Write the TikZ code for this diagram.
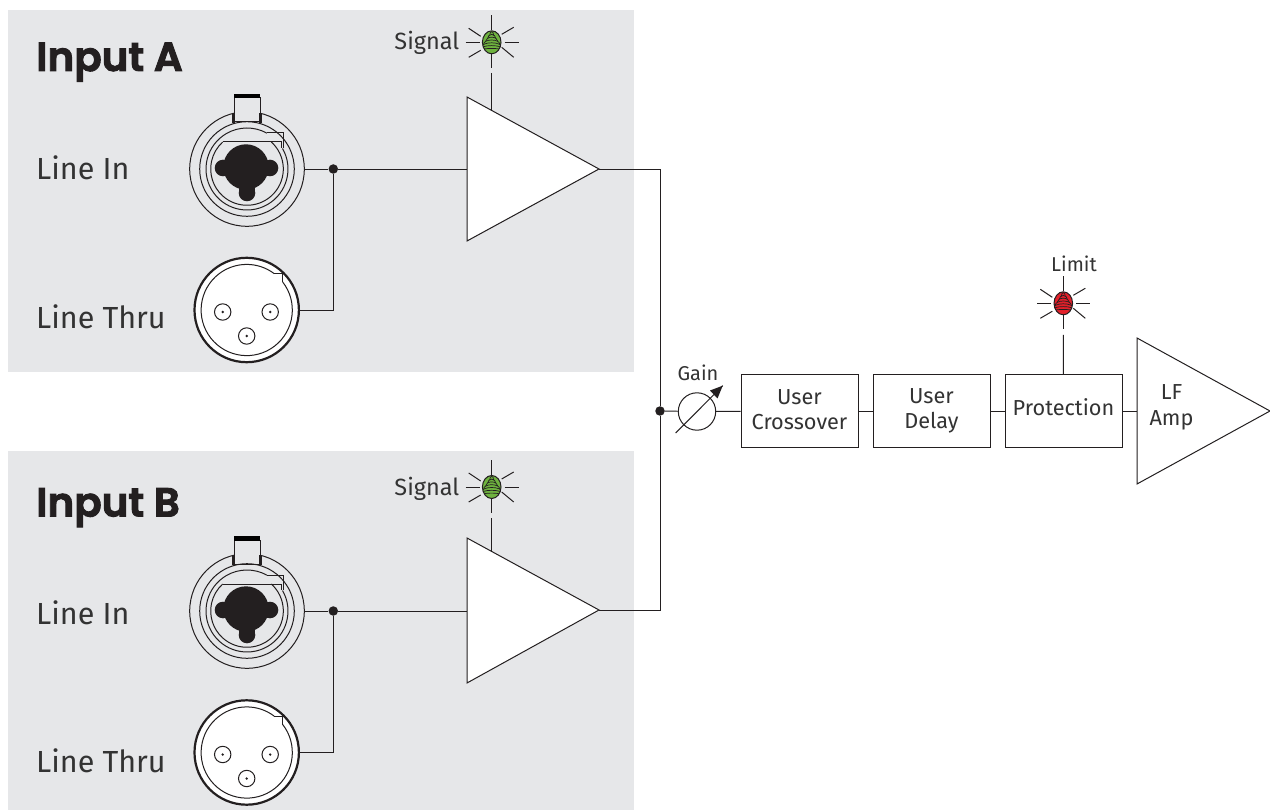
\documentclass[tikz,border=0pt]{standalone}
\usepackage{fontspec}
\setmainfont{Fira Sans}
\newfontfamily\headfont[FakeBold=2.4]{Poppins SemiBold}
\definecolor{panel}{HTML}{E6E7E9}
\definecolor{ink}{HTML}{231F20}
\definecolor{txt}{HTML}{333333}
\definecolor{ledgreen}{HTML}{6FB33F}
\definecolor{ledred}{HTML}{E3202A}
\tikzset{
  wire/.style={draw=ink,line width=.95pt},
  thinline/.style={draw=ink,line width=1pt},
  panelbox/.style={fill=panel,draw=none},
  amp/.style={draw=ink,fill=white,line width=1pt,line join=miter},
  block/.style={draw=ink,fill=white,line width=1pt,inner sep=0pt,minimum width=117pt,minimum height=72pt,align=center,font=\fontsize{21.7}{25.2}\selectfont,text=txt},
  dotnode/.style={circle,fill=ink,draw=none,inner sep=0pt,minimum size=9.5pt},
  label/.style={inner sep=0pt,text=txt,font=\fontsize{30.5}{32}\selectfont,anchor=base west},
  small/.style={inner sep=0pt,text=txt,font=\fontsize{20}{24}\selectfont,anchor=base},
  sig/.style={inner sep=0pt,text=txt,font=\fontsize{23.5}{26}\selectfont,anchor=base east},
  head/.style={inner sep=0pt,text=ink,font=\headfont\fontsize{40.5}{44}\selectfont,anchor=base west},
  led/.pic={
    \tikzset{x=1pt,y=-1pt}
    \foreach \a/\b/\c/\d in {0/-27/0/-12, -26/0/-12/0, 13/0/27/0, -23/-14/-11/-6, 22/-15/10/-8, -23/15/-11/8, 22/15/10/5}
      \draw[thinline] (\a,\b)--(\c,\d);
    \draw[thinline] (0,12)--(0,26);
    \begin{scope}
      \clip (0,0) ellipse [x radius=9.3pt,y radius=11.5pt];
      \fill[pic actions] (-10,-12) rectangle (10,12);
      \foreach \i in {1,...,7}
        \draw[ink,line width=.7pt] ({-\i*2},{-9.5+\i*2.8}) arc (180:0:{\i*2pt} and {4pt});
    \end{scope}
    \draw[ink,line width=1pt] (0,0) ellipse [x radius=9.3pt,y radius=11.5pt];
  },
  jack/.pic={
    \tikzset{x=1pt,y=-1pt}
    \draw[thinline] (0,0) circle (57.3pt);
    \draw[thinline,fill=panel] (-13,-47) rectangle (13,-71);
    \fill[black] (-13,-75) rectangle (13,-70.5);
    \draw[ink,line width=2.6pt] (-13.3,-46)--(-13.3,-56) (13.3,-46)--(13.3,-56);
    \draw[thinline] (0,0) circle (47.3pt);
    \draw[thinline] (35.5,-20.5) arc (30:-299:41pt);
    \draw[thinline] (24.3,-27) arc (48:-228:36.3pt);
    \draw[thinline] (20,-36) -- (36,-36) -- (36,-21);
    \draw[thinline] (34.5,-21) -- (34.5,-27) -- (-24.5,-27);
    \fill[ink] (-1,-2) circle (22.7pt);
    \fill[ink] (-24,-1) circle (8.3pt);
    \fill[ink] (23,-1) circle (8.3pt);
    \fill[ink] (0,24) circle (8.3pt);
    \fill[ink] (-24,-9) rectangle (23,7);
    \fill[ink] (-8,10) rectangle (8,24);
  },
  xlr/.pic={
    \tikzset{x=1pt,y=-1pt}
    \draw[draw=ink,fill=white,line width=2.2pt] (0,0) circle (52.2pt);
    \draw[thinline] (27,-36) -- (36,-36) -- (36,-28);
    \draw[thinline] (36,-28) arc (37.9:-307:45.6pt);
    \foreach \a/\b in {-24/2,23.5/2,0/26}{
      \draw[thinline] (\a,\b) circle (8.2pt);
      \fill[ink] (\a,\b) circle (1.3pt);
    }
  }
}
\begin{document}
\begin{tikzpicture}[x=1pt,y=-1pt]
\useasboundingbox (0,0) rectangle (1270,810);
\fill[white] (0,0) rectangle (1270,810);
\fill[panelbox] (8,10) rectangle (634,372);
\fill[panelbox] (8,451) rectangle (634,810);

% coordinates
\coordinate (ampAin) at (467,169);
\coordinate (ampAout) at (599,169);
\coordinate (ampBin) at (467,611);
\coordinate (ampBout) at (599,610);
\coordinate (jackAout) at (305,169);
\coordinate (xlrAout) at (300,310);
\coordinate (jackBout) at (305,611);
\coordinate (xlrBout) at (300,752.5);
\coordinate (cornerA) at (660,169);
\coordinate (cornerB) at (660,610);
\coordinate (ledAfoot) at (491.7,73);
\coordinate (ampAtop) at (491.7,111);
\coordinate (ledBfoot) at (491.7,518);
\coordinate (ampBtop) at (491.7,552);
\coordinate (limfoot) at (1063.3,335);

% text
\node[head] (tA) at (36,71) {Input A};
\node[head] (tB) at (36,516.5) {Input B};
\node[label] (l1) at (36,179.5) {Line In};
\node[label] (l2) at (36,328.5) {Line Thru};
\node[label] (l3) at (36,624.5) {Line In};
\node[label] (l4) at (36,772) {Line Thru};
\node[sig] (sA) at (459.5,50) {Signal};
\node[sig] (sB) at (459.5,495) {Signal};
\node[small] (gainT) at (698,381) {Gain};
\node[small] (limT) at (1074,272) {Limit};

% panel wires
\node[dotnode] (dA) at (333.3,169) {};
\node[dotnode] (dB) at (333.3,611) {};
\node[dotnode] (dM) at (660,411) {};
\draw[wire] (jackAout) -- (dA) -- (ampAin);
\draw[wire] (dA) |- (xlrAout);
\draw[wire] (jackBout) -- (dB) -- (ampBin);
\draw[wire] (dB) |- (xlrBout);
\draw[wire] (ampAout) -- (cornerA) -- (dM) -- (cornerB) -- (ampBout);
\draw[wire] (ledAfoot) -- (ampAtop);
\draw[wire] (ledBfoot) -- (ampBtop);

% amplifiers
\draw[amp] (467,97) -- (467,241) -- (599,169) -- cycle;
\draw[amp] (467,538) -- (467,683) -- (599,610) -- cycle;
\draw[amp] (1137,338) -- (1137,484) -- (1270,411) -- cycle;
\coordinate (lfin) at (1137,411);
\node[inner sep=0pt,text=txt,align=center,font=\fontsize{21.7}{25.6}\selectfont] (lfT) at (1171.5,407.5) {LF\\Amp};

% connectors
\pic at (247,169) {jack};
\pic at (247,611) {jack};
\pic at (246.7,310) {xlr};
\pic at (246.7,752.5) {xlr};
\pic[fill=ledgreen] at (491.7,42.3) {led};
\pic[fill=ledgreen] at (491.7,487) {led};
\pic[fill=ledred] at (1063.3,303.3) {led};

% chain
\node[block] (xo) at (799.5,411) {User\\Crossover\rule[-3pt]{0pt}{3pt}};
\node[block] (dl) at (931.5,411) {User\\Delay};
\node[block] (pr) at (1063.5,411) {Protection\rule[-8pt]{0pt}{8pt}};
\node[circle,draw=ink,line width=1pt,fill=white,inner sep=0pt,minimum size=37.4pt] (gain) at (697,411.5) {};
\draw[wire] (dM) -- (gain);
\draw[wire] (gain) -- (xo);
\draw[wire] (xo) -- (dl);
\draw[wire] (dl) -- (pr);
\draw[wire] (pr) -- (lfin);
\draw[wire] (limfoot) -- (pr);
\coordinate (gs) at (675.7,433);
\coordinate (ge) at (722.7,385.7);
\draw[thinline] (gs) -- (ge);
\fill[ink] (ge) -- (710,390.5) -- (717.5,398.5) -- cycle;
\end{tikzpicture}
\end{document}
